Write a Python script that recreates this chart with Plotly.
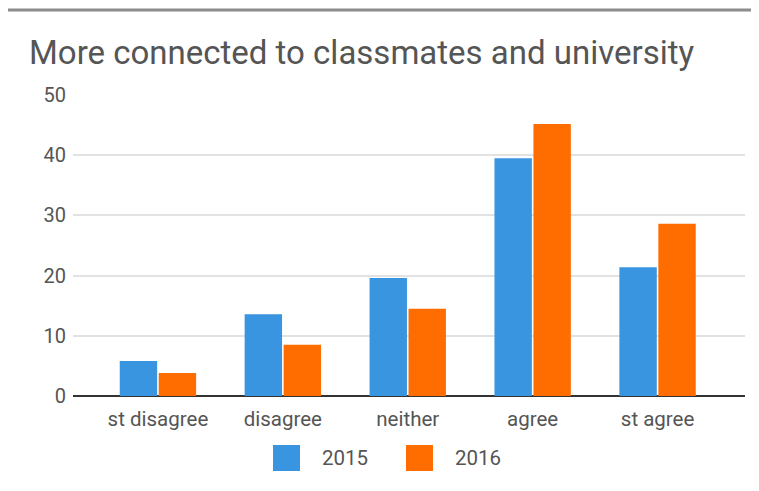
import plotly.graph_objects as go

categories = ["st disagree", "disagree", "neither", "agree", "st agree"]
values_2015 = [5.8, 13.6, 19.6, 39.5, 21.4]
values_2016 = [3.8, 8.5, 14.5, 45.2, 28.6]
series_names = ["2015", "2016"]
colors = ["#3a95e0", "#ff6d00"]
y_ticks = [0, 10, 20, 30, 40, 50]

# page body has an 8px margin; work in page coordinates and shift
OFF = 8
W, H = 759 - OFF, 491 - OFF
L, R, T, B = 73 - OFF, 14, 95 - OFF, 95
pw = W - L - R
ph = H - T - B

fig = go.Figure()
for name, vals, col in zip(series_names, [values_2015, values_2016], colors):
    fig.add_trace(go.Bar(x=categories, y=vals, name=name, marker=dict(color=col, line=dict(width=0)),
                         showlegend=False))

def px2x(px):
    return (px - OFF - L) / pw

def px2y(py):
    return (H - B - (py - OFF)) / ph

shapes = [
    dict(type="line", xref="paper", yref="paper", x0=px2x(7), x1=px2x(770), y0=px2y(10), y1=px2y(10),
         line=dict(color="#8c8c8c", width=3)),
]
annotations = []
legend_x = [273, 406]
for i, (name, col) in enumerate(zip(series_names, colors)):
    x0 = legend_x[i]
    shapes.append(dict(type="rect", xref="paper", yref="paper", x0=px2x(x0), x1=px2x(x0 + 27),
                       y0=px2y(445), y1=px2y(471), fillcolor=col, line=dict(width=0)))
    annotations.append(dict(text=name, xref="paper", yref="paper", x=px2x(x0 + 47), y=px2y(458),
                            xanchor="left", yanchor="middle", showarrow=False,
                            font=dict(family="Roboto", size=20.5, color="#555555")))

fig.update_layout(
    width=W, height=H,
    margin=dict(l=L, r=R, t=T, b=B),
    paper_bgcolor="white", plot_bgcolor="white",
    title=dict(text="More connected to classmates and university", x=(29 - OFF) / W, xanchor="left",
               y=1 - (52 - OFF) / H, yanchor="middle",
               font=dict(family="Roboto", size=33, color="#555555")),
    barmode="group", bargap=0.376, bargroupgap=0.04,
    xaxis=dict(range=[-0.68, 4.7], showgrid=False, showline=False, ticks="", ticklabelstandoff=8,
               tickfont=dict(family="Roboto", size=20.5, color="#555555")),
    yaxis=dict(range=[0, 50], tickvals=y_ticks, showgrid=True, gridcolor="#e2e2e2", gridwidth=1.5,
               zeroline=True, zerolinecolor="#333333", zerolinewidth=2, showline=False, ticks="",
               ticklabelstandoff=6,
               tickfont=dict(family="Roboto", size=20, color="#555555")),
    shapes=shapes, annotations=annotations,
)

fig.write_html("out.html")
